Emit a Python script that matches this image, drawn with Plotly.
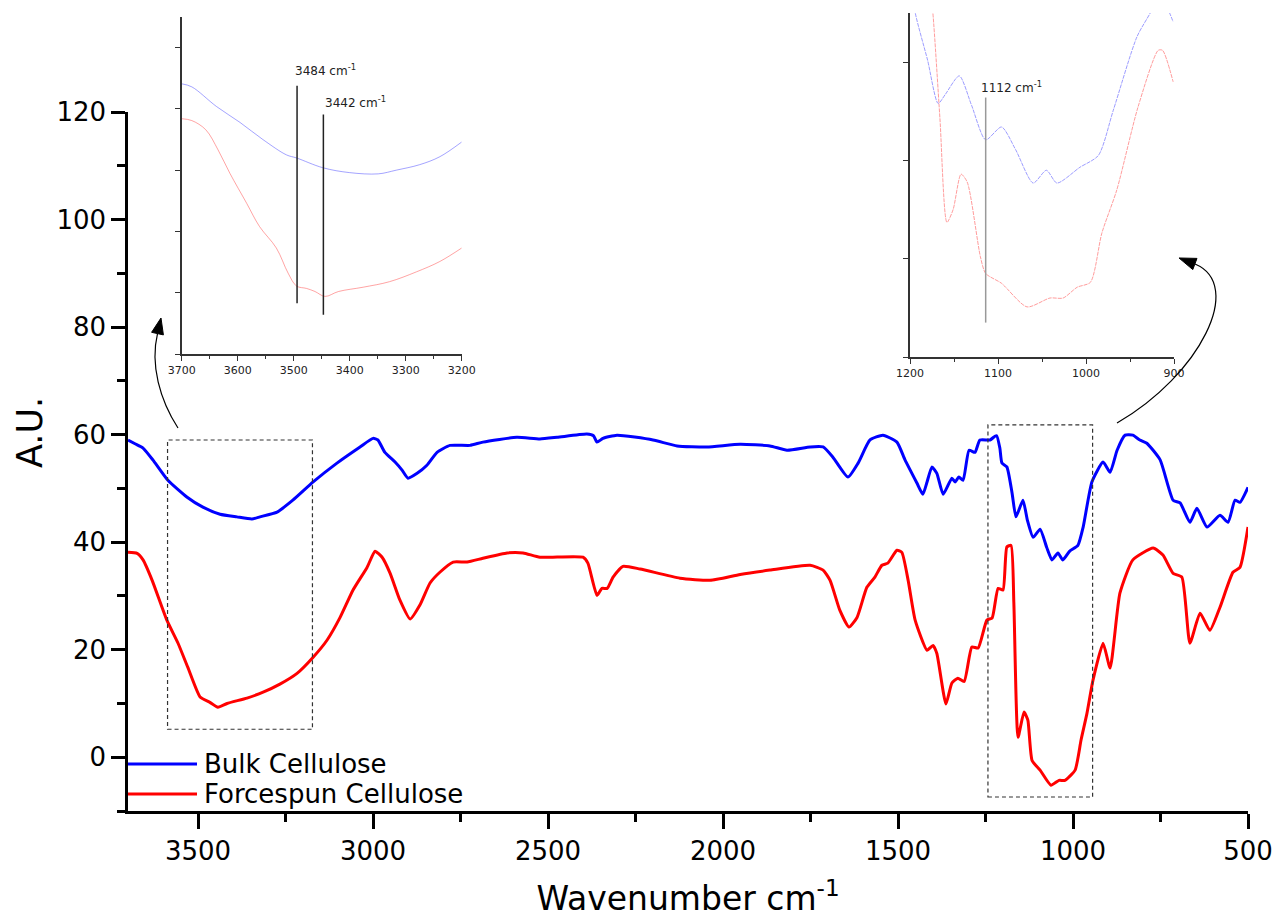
import plotly.graph_objects as go

# ---------------- data ----------------
bulk_wn = [3700, 3680, 3657, 3629, 3586, 3532, 3486, 3437, 3389, 3346, 3323, 3274, 3229, 3171,
           3103, 3037, 3000, 2986, 2966, 2937, 2917, 2900, 2874, 2846, 2817, 2780, 2723, 2686,
           2589, 2523, 2474, 2389, 2370, 2360, 2343, 2303, 2200, 2131, 2046, 1951, 1866, 1817,
           1751, 1714, 1686, 1643, 1614, 1580, 1543, 1503, 1480, 1446, 1429, 1417, 1403, 1389,
           1371, 1346, 1337, 1326, 1314, 1297, 1280, 1266, 1237, 1223, 1218, 1209, 1203, 1189,
           1174, 1163, 1143, 1130, 1114, 1094, 1075, 1060, 1043, 1029, 1010, 986, 971, 946,
           914, 894, 874, 851, 829, 809, 789, 751, 714, 694, 666, 646, 617, 580, 557, 537,
           523, 500]
bulk_au = [59.0, 58.3, 57.5, 55.3, 51.5, 48.4, 46.5, 45.2, 44.7, 44.3, 44.7, 45.6, 47.8, 51.2,
           54.7, 57.7, 59.3, 59.0, 56.7, 54.9, 53.4, 51.9, 52.8, 54.3, 56.7, 58.0, 58.0, 58.6,
           59.5, 59.2, 59.5, 60.1, 59.8, 58.6, 59.3, 59.9, 59.0, 57.9, 57.7, 58.2, 57.9, 57.1,
           57.7, 57.7, 55.8, 52.1, 54.7, 59.0, 59.9, 58.6, 55.3, 51.0, 48.9, 51.2, 54.0, 52.8,
           48.9, 51.9, 51.2, 52.1, 51.5, 57.1, 56.7, 59.0, 59.0, 59.7, 59.8, 57.5, 54.7, 54.0,
           49.1, 44.7, 47.8, 44.0, 40.9, 42.4, 39.0, 36.7, 38.0, 36.7, 38.3, 39.4, 42.8, 51.2,
           54.9, 53.0, 57.1, 59.9, 59.9, 59.0, 58.4, 55.3, 47.8, 47.3, 43.7, 46.3, 42.8, 45.0, 43.7, 47.8,
           47.4, 50.2]

spun_wn = [3700, 3674, 3657, 3631, 3589, 3557, 3529, 3494, 3466, 3443, 3417, 3360, 3314, 3266,
           3217, 3171, 3131, 3094, 3057, 3017, 2994, 2974, 2951, 2923, 2894, 2866, 2837, 2809,
           2771, 2731, 2686, 2617, 2571, 2523, 2400, 2386, 2360, 2346, 2331, 2314, 2286, 2237,
           2123, 2037, 1951, 1866, 1751, 1714, 1694, 1666, 1640, 1617, 1589, 1566, 1546, 1529,
           1503, 1489, 1471, 1451, 1417, 1400, 1389, 1363, 1346, 1329, 1311, 1289, 1271, 1246,
           1231, 1214, 1200, 1189, 1177, 1169, 1157, 1140, 1129, 1117, 1094, 1063, 1040, 1023,
           994, 977, 960, 943, 914, 894, 866, 829, 771, 743, 714, 689, 666, 637, 609, 580,
           543, 523, 500]
spun_au = [38.1, 37.9, 36.7, 32.9, 25.5, 21.2, 16.7, 11.2, 10.2, 9.3, 10.0, 11.0, 12.1, 13.6,
           15.6, 18.6, 21.8, 26.0, 31.1, 35.3, 38.3, 37.2, 34.2, 29.2, 25.7, 28.3, 32.4, 34.4,
           36.3, 36.3, 37.0, 38.0, 38.0, 37.2, 37.2, 36.1, 30.1, 31.4, 31.4, 33.5, 35.5, 35.0,
           33.3, 32.9, 34.0, 34.8, 35.7, 34.8, 32.9, 27.3, 24.2, 26.0, 31.6, 33.5, 35.7, 36.1,
           38.5, 38.1, 32.9, 25.5, 19.9, 20.8, 19.3, 9.9, 13.8, 14.7, 14.1, 20.5, 20.3, 25.5,
           25.9, 31.4, 31.1, 39.1, 39.4, 28.7, 3.7, 8.4, 6.9, -0.6, -2.4, -5.2, -4.3, -4.3,
           -2.4, 3.2, 8.2, 14.3, 21.2, 16.6, 30.5, 36.7, 38.9, 37.6, 34.2, 33.5, 21.2, 26.8, 23.6, 27.9,
           34.4, 35.3, 42.8]

# inset 1 (3700-3200 cm-1), arbitrary units
in1_bulk_wn = [3700, 3682, 3638, 3596, 3555, 3513, 3495, 3448, 3400, 3349, 3317, 3275, 3239, 3200]
in1_bulk_au = [4.41, 4.36, 4.04, 3.78, 3.50, 3.25, 3.20, 3.04, 2.96, 2.94, 3.00, 3.09, 3.22, 3.46]
in1_spun_wn = [3700, 3682, 3657, 3635, 3614, 3584, 3561, 3531, 3510, 3495, 3477, 3462, 3444, 3420,
               3376, 3329, 3281, 3239, 3200]
in1_spun_au = [3.84, 3.81, 3.66, 3.33, 2.95, 2.46, 2.08, 1.73, 1.32, 1.11, 1.07, 1.02, 0.94, 1.02,
               1.09, 1.18, 1.34, 1.51, 1.73]

# inset 2 (1200-900 cm-1), arbitrary units
in2_bulk_wn = [1200, 1194, 1180, 1168, 1160, 1144, 1130, 1114, 1096, 1080, 1060, 1045, 1033, 1007,
               986, 969, 942, 927, 916, 905, 901]
in2_bulk_au = [3.9, 3.5, 3.02, 2.58, 2.67, 2.86, 2.56, 2.21, 2.34, 2.11, 1.77, 1.90, 1.77, 1.93,
               2.05, 2.51, 3.26, 3.5, 3.7, 3.5, 3.41]
in2_spun_wn = [1180, 1174, 1166, 1158, 1151, 1142, 1135, 1120, 1114, 1096, 1067, 1041, 1026, 1010,
               995, 982, 965, 941, 918, 913, 901]
in2_spun_au = [4.0, 3.5, 2.43, 1.37, 1.50, 1.86, 1.78, 1.02, 0.85, 0.75, 0.51, 0.60, 0.60, 0.71,
               0.76, 1.26, 1.70, 2.54, 3.12, 3.12, 2.80]

# peak markers in the insets: (wavenumber drawn, y from, y to, label, label x, label y)
in1_peaks = [(3494, 4.38, 0.83, "3484 cm<sup>-1</sup>", 3501, 4.64),
             (3447, 3.91, 0.64, "3442 cm<sup>-1</sup>", 3448, 4.12)]
in2_peaks = [(1114, 2.64, 0.35, "1112 cm<sup>-1</sup>", 1122, 2.75)]

# highlighted regions on main plot: (wn from, wn to, AU low, AU high)
zoom_boxes = [(3587, 3173, 5.2, 59.0), (1243, 944, -7.4, 61.8)]

series_names = ["Bulk Cellulose", "Forcespun Cellulose"]
series_colors = ["#0000FF", "#FF0000"]

# ---------------- layout geometry ----------------
W, H = 1278, 922
ML, MR, MT, MB = 128, 30, 10, 111
PW, PH = W - ML - MR, H - MT - MB


def pp(px, py):
    return (px - ML) / PW, (H - MB - py) / PH


FONT = "DejaVu Sans, Verdana, sans-serif"

fig = go.Figure()
fig.add_trace(go.Scatter(x=bulk_wn, y=bulk_au, mode="lines", name=series_names[0],
                         line=dict(color=series_colors[0], width=3, shape="spline", smoothing=0.5),
                         showlegend=False))
fig.add_trace(go.Scatter(x=spun_wn, y=spun_au, mode="lines", name=series_names[1],
                         line=dict(color=series_colors[1], width=3, shape="spline", smoothing=0.5),
                         showlegend=False))

fig.add_trace(go.Scatter(x=in1_bulk_wn, y=in1_bulk_au, mode="lines", xaxis="x2", yaxis="y2",
                         line=dict(color="rgba(90,90,255,0.55)", width=1, shape="spline"),
                         showlegend=False))
fig.add_trace(go.Scatter(x=in1_spun_wn, y=in1_spun_au, mode="lines", xaxis="x2", yaxis="y2",
                         line=dict(color="rgba(255,90,90,0.55)", width=1, shape="spline"),
                         showlegend=False))
fig.add_trace(go.Scatter(x=in2_bulk_wn, y=in2_bulk_au, mode="lines", xaxis="x3", yaxis="y3",
                         line=dict(color="rgba(90,90,255,0.6)", width=1, dash="4px,1px",
                                   shape="spline", smoothing=0.7),
                         showlegend=False))
fig.add_trace(go.Scatter(x=in2_spun_wn, y=in2_spun_au, mode="lines", xaxis="x3", yaxis="y3",
                         line=dict(color="rgba(255,90,90,0.6)", width=1, dash="4px,1px",
                                   shape="spline", smoothing=0.7),
                         showlegend=False))

y_top = pp(0, 112)[1]

shapes = []
annotations = []

# dashed boxes
for x0, x1, y0, y1 in zoom_boxes:
    shapes.append(dict(type="rect", xref="x", yref="y", x0=x0, x1=x1, y0=y0, y1=y1,
                       line=dict(color="#333", width=1.2, dash="4px,3px")))

# inset peak lines and labels
for xv, ya, yb, lab, lx, ly in in1_peaks:
    shapes.append(dict(type="line", xref="x2", yref="y2", x0=xv, x1=xv, y0=ya, y1=yb,
                       line=dict(color="#222", width=1.5)))
    annotations.append(dict(xref="x2", yref="y2", x=lx, y=ly, text=lab, showarrow=False,
                            xanchor="left", yanchor="middle",
                            font=dict(family=FONT, size=12, color="#222")))
for xv, ya, yb, lab, lx, ly in in2_peaks:
    shapes.append(dict(type="line", xref="x3", yref="y3", x0=xv, x1=xv, y0=ya, y1=yb,
                       line=dict(color="#999", width=1.5)))
    annotations.append(dict(xref="x3", yref="y3", x=lx, y=ly, text=lab, showarrow=False,
                            xanchor="left", yanchor="middle",
                            font=dict(family=FONT, size=12, color="#222")))


def path_from_px(pts, close=False):
    out = []
    for a, b in pts:
        x, y = pp(a, b)
        out.append(f"{x:.5f},{y:.5f}")
    if close:
        return "M " + " L ".join(out) + " Z"
    return "M " + out[0] + " C " + " ".join(out[1:])


# curved arrows
shapes.append(dict(type="path", xref="paper", yref="paper",
                   path=path_from_px([(178, 428), (160, 400), (150, 365), (157.5, 333.6)]),
                   line=dict(color="black", width=1.2)))
shapes.append(dict(type="path", xref="paper", yref="paper",
                   path=path_from_px([(161, 318), (163.4, 334.9), (151.6, 332.3)], close=True),
                   fillcolor="black", line=dict(color="black", width=1)))
shapes.append(dict(type="path", xref="paper", yref="paper",
                   path=path_from_px([(1117, 423), (1200, 375), (1245, 285), (1195, 264)]),
                   line=dict(color="black", width=1.2)))
shapes.append(dict(type="path", xref="paper", yref="paper",
                   path=path_from_px([(1179, 258), (1197, 258.4), (1192.8, 269.6)], close=True),
                   fillcolor="black", line=dict(color="black", width=1)))

# manual legend
for i, (nm, col) in enumerate(zip(series_names, series_colors)):
    ly = 764 + 30 * i
    x0, yy = pp(128, ly)
    x1, _ = pp(197, ly)
    shapes.append(dict(type="line", xref="paper", yref="paper", x0=x0, x1=x1, y0=yy, y1=yy,
                       line=dict(color=col, width=3)))
    tx, _ = pp(202, ly)
    annotations.append(dict(xref="paper", yref="paper", x=tx, y=yy, text=nm, showarrow=False,
                            xanchor="left", yanchor="middle",
                            font=dict(family=FONT, size=26, color="black")))

# y axis title
tx, ty = pp(30, 433)
annotations.append(dict(xref="paper", yref="paper", x=tx, y=ty, text="A.U.", showarrow=False,
                        textangle=-90, xanchor="center", yanchor="middle",
                        font=dict(family=FONT, size=35, color="black")))

d1x0, _ = pp(181.7, 0)
d1x1, _ = pp(461.7, 0)
_, d1y0 = pp(0, 354)
_, d1y1 = pp(0, 17)
d2x0, _ = pp(910, 0)
d2x1, _ = pp(1174, 0)
_, d2y0 = pp(0, 357)
_, d2y1 = pp(0, 13)

inset_x = dict(showline=True, linewidth=1.5, linecolor="#333", ticks="outside", ticklen=5,
               tickwidth=1, tickcolor="#333", dtick=100, showgrid=False, zeroline=False,
               automargin=False,
               tickfont=dict(family=FONT, size=11, color="#222"),
               minor=dict(ticks="outside", ticklen=3, dtick=50, tickcolor="#333"))
inset_y = dict(showline=True, linewidth=1.5, linecolor="#333", ticks="outside", ticklen=5,
               tickwidth=1, tickcolor="#333", dtick=1, tick0=0, showticklabels=False,
               showgrid=False, zeroline=False, automargin=False)

fig.update_layout(
    width=W, height=H,
    margin=dict(l=ML, r=MR, t=MT, b=MB, autoexpand=False),
    paper_bgcolor="white", plot_bgcolor="white",
    font=dict(family=FONT, color="black"),
    showlegend=False,
    xaxis=dict(range=[3700, 500], domain=[0, 1], anchor="y", automargin=False,
               showline=True, linewidth=2.5, linecolor="black",
               ticks="outside", ticklen=15, tickwidth=2.5, tickcolor="black",
               tickmode="array", tickvals=[3500, 3000, 2500, 2000, 1500, 1000, 500],
               minor=dict(ticks="outside", ticklen=8, tickwidth=2.5, tickcolor="black",
                          tickmode="array",
                          tickvals=[3250, 2750, 2250, 1750, 1250, 750]),
               showgrid=False, zeroline=False,
               tickfont=dict(family=FONT, size=26),
               title=dict(text="Wavenumber cm<sup>-1</sup>", font=dict(family=FONT, size=33),
                          standoff=22)),
    yaxis=dict(range=[-10, 120], domain=[0, y_top], anchor="x", automargin=False,
               showline=True, linewidth=2.5, linecolor="black",
               ticks="outside", ticklen=14, tickwidth=2.5, tickcolor="black",
               tick0=0, dtick=20,
               minor=dict(ticks="outside", ticklen=8, tickwidth=2.5, tickcolor="black",
                          tick0=-10, dtick=20),
               showgrid=False, zeroline=False,
               tickfont=dict(family=FONT, size=26)),
    xaxis2=dict(domain=[d1x0, d1x1], anchor="y2", range=[3700, 3200], **inset_x),
    yaxis2=dict(domain=[d1y0, d1y1], anchor="x2", range=[0, 5.5], **inset_y),
    xaxis3=dict(domain=[d2x0, d2x1], anchor="y3", range=[1200, 900], **inset_x),
    yaxis3=dict(domain=[d2y0, d2y1], anchor="x3", range=[0, 3.5], **inset_y),
    shapes=shapes,
    annotations=annotations,
)

fig.write_html("out.html")
